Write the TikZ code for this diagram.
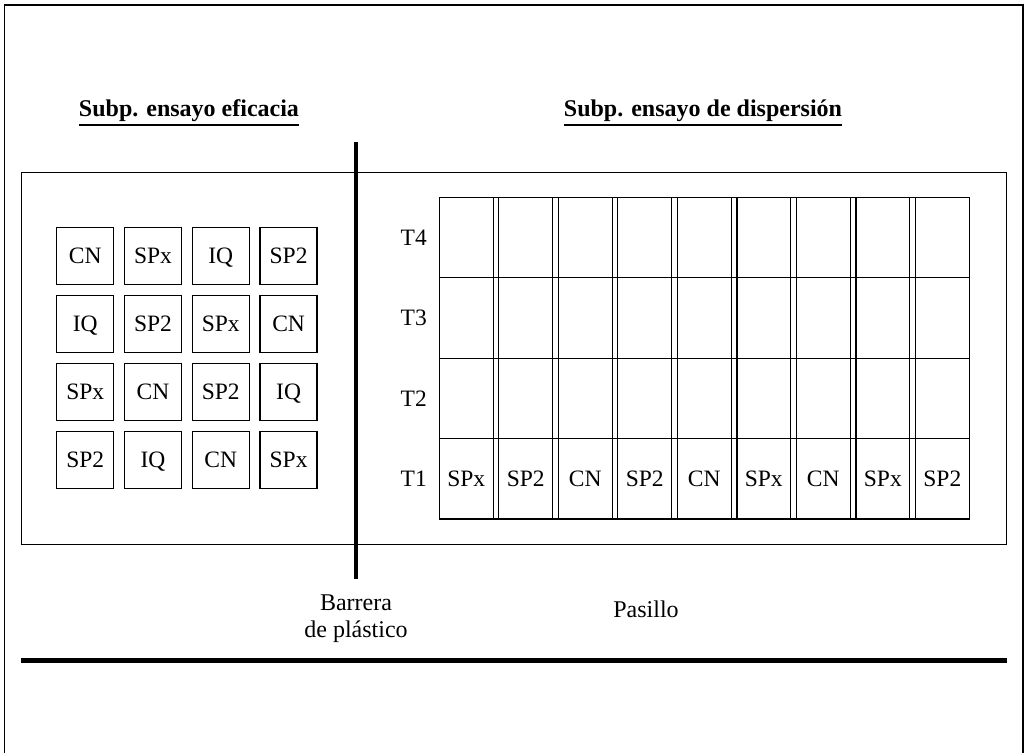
\documentclass[tikz,border=0pt]{standalone}
\usepackage{fontspec}
\setmainfont{Liberation Serif}
\begin{document}
\begin{tikzpicture}[x=1pt,y=-1pt,
  thin line/.style={line width=1.3pt},
  heavy line/.style={line width=4.5pt},
  plotbox/.style={draw, thin line, minimum width=57pt, minimum height=57pt,
    inner sep=0pt, font=\fontsize{23.5}{26}\selectfont, text height=15.6pt, text depth=0pt},
  cell/.style={inner sep=0pt, font=\fontsize{23.5}{26}\selectfont, text height=15.6pt, text depth=0pt},
  heading/.style={anchor=base, inner sep=0pt, font=\fontsize{24}{27}\selectfont\bfseries},
  plain/.style={inner sep=0pt, font=\fontsize{24}{27}\selectfont}]
\useasboundingbox (0,0) rectangle (1026,753);

% outer frame (open at the bottom)
\draw[thin line] (4.5,753) -- (4.5,5) -- (1023,5) -- (1023,753);

% headings with underlines
\node[heading] (h1) at (189,116) {Subp. ensayo eficacia};
\node[heading] (h2) at (703,116) {Subp. ensayo de dispersión};
\draw[line width=1.2pt] ([yshift=-9pt]h1.base west) -- ([yshift=-9pt]h1.base east);
\draw[line width=1.2pt] ([yshift=-9pt]h2.base west) -- ([yshift=-9pt]h2.base east);

% field outline
\draw[thin line] (21.7,172.3) rectangle (1006.5,544.5);

% plastic barrier
\draw[line width=4pt] (356,141.7) -- (356,579);

% efficacy sub-plots (4 x 4 latin square)
\foreach \row [count=\r from 0] in {{CN,SPx,IQ,SP2},{IQ,SP2,SPx,CN},{SPx,CN,SP2,IQ},{SP2,IQ,CN,SPx}} {
  \foreach \lab [count=\c from 0] in \row {
    \node[plotbox] (b\r\c) at ({85.2+\c*67.8},{256+\r*68}) {\lab};
  }
}

% dispersion grid: 9 strips x 4 rows
\draw[thin line] (439.3,197.3) rectangle (969.3,519);
\foreach \yy in {277.7,358.3,438.3}
  \draw[thin line] (439.3,\yy) -- (969.3,\yy);
\foreach \k in {0,...,7} {
  \draw[thin line] ({439.3+\k*59.51+53.9},197.3) -- ({439.3+\k*59.51+53.9},519);
  \draw[thin line] ({439.3+(\k+1)*59.51},197.3) -- ({439.3+(\k+1)*59.51},519);
}
\foreach \lab [count=\i from 0] in {SPx,SP2,CN,SP2,CN,SPx,CN,SPx,SP2}
  \node[cell] (s\i) at ({439.3+\i*59.51+26.95},478.7) {\lab};

% row labels
\foreach \lab/\yy in {T4/237.5,T3/318,T2/398.3,T1/478.7}
  \node[cell, anchor=east] (\lab) at (427,\yy) {\lab};

% lower labels
\node[plain, align=center, anchor=north] (barrera) at (356,595) {Barrera\\de plástico};
\node[plain, anchor=base] (pasillo) at (646,617) {Pasillo};

% aisle edge
\draw[heavy line] (21,660.5) -- (1006.5,660.5);
\end{tikzpicture}
\end{document}
